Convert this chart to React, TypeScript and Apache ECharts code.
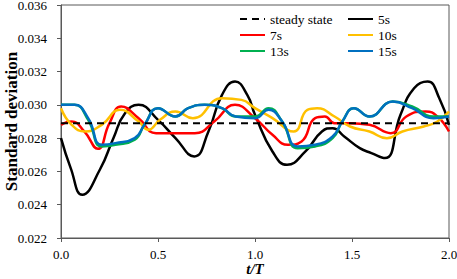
import React, { useEffect, useRef } from "react";
import * as echarts from "echarts";

const steadyValue = 0.0289;
const steadyT = [0, 2];

const t5 = [0, 0.05, 0.11, 0.2, 0.27, 0.33, 0.4, 0.5, 0.59, 0.687, 0.76, 0.83, 0.897, 0.96, 1.0, 1.09, 1.165, 1.26, 1.345, 1.4, 1.46, 1.54, 1.6, 1.67, 1.75, 1.82, 1.89, 1.95, 2.0];
const v5 = [0.028, 0.0262, 0.0246, 0.0261, 0.028, 0.0295, 0.0300, 0.0291, 0.0280, 0.0269, 0.0284, 0.0306, 0.0314, 0.0306, 0.0294, 0.0272, 0.0264, 0.0272, 0.0284, 0.0286, 0.0281, 0.0274, 0.0271, 0.0268, 0.0294, 0.0310, 0.0314, 0.0304, 0.0288];

const t7 = [0, 0.055, 0.12, 0.19, 0.25, 0.31, 0.4, 0.49, 0.59, 0.69, 0.79, 0.897, 1.0, 1.09, 1.17, 1.24, 1.31, 1.36, 1.41, 1.49, 1.59, 1.7, 1.78, 1.88, 1.94, 2.0];
const v7 = [0.0288, 0.0290, 0.0284, 0.02736, 0.0289, 0.0299, 0.0292, 0.0283, 0.0283, 0.0283, 0.0290, 0.0300, 0.0292, 0.0282, 0.0276, 0.0278, 0.0292, 0.0293, 0.0289, 0.0289, 0.0288, 0.0283, 0.0293, 0.0296, 0.0293, 0.0284];

const t10 = [0, 0.055, 0.124, 0.21, 0.304, 0.4, 0.45, 0.51, 0.59, 0.68, 0.83, 0.93, 1.0, 1.09, 1.2, 1.27, 1.32, 1.41, 1.49, 1.59, 1.68, 1.76, 1.87, 1.94, 2.0];
const v10 = [0.0298, 0.0288, 0.0284, 0.0288, 0.0297, 0.0290, 0.0285, 0.0291, 0.0296, 0.0292, 0.0304, 0.0303, 0.0298, 0.0292, 0.0284, 0.0297, 0.0298, 0.0293, 0.0287, 0.0284, 0.0280, 0.0284, 0.0287, 0.0290, 0.0296];

const t13 = [0, 0.07, 0.14, 0.21, 0.28, 0.38, 0.43, 0.5, 0.59, 0.655, 0.74, 0.83, 0.9, 1.0, 1.07, 1.14, 1.22, 1.31, 1.4, 1.45, 1.51, 1.59, 1.71, 1.81, 1.92, 2.0];
const v13 = [0.0300, 0.0300, 0.0291, 0.0275, 0.0276, 0.0279, 0.0288, 0.0298, 0.0293, 0.0298, 0.0300, 0.0298, 0.0293, 0.0293, 0.0298, 0.0290, 0.0274, 0.0275, 0.0280, 0.0290, 0.0298, 0.0293, 0.0302, 0.0299, 0.0293, 0.0293];

const t15 = [0, 0.07, 0.14, 0.21, 0.28, 0.38, 0.43, 0.5, 0.59, 0.655, 0.74, 0.83, 0.9, 1.0, 1.07, 1.14, 1.22, 1.31, 1.4, 1.45, 1.51, 1.59, 1.71, 1.81, 1.92, 2.0];
const v15 = [0.0300, 0.0300, 0.0292, 0.0276, 0.0277, 0.0280, 0.0288, 0.0298, 0.0293, 0.0298, 0.0300, 0.0298, 0.0293, 0.0292, 0.0297, 0.0290, 0.0275, 0.0276, 0.0281, 0.0290, 0.0298, 0.0293, 0.0302, 0.0298, 0.0292, 0.0293];

const seriesNames = ["steady state", "5s", "7s", "10s", "13s", "15s"];
const seriesColors = ["#000000", "#000000", "#ff0000", "#ffc000", "#00b050", "#0070c0"];

const zip = (t: number[], v: number[]) => t.map((x, i) => [x, v[i]]);

const FONT = "'Liberation Serif', 'Times New Roman', serif";

export default function App() {
  const ref = useRef<HTMLDivElement>(null);
  useEffect(() => {
    if (!ref.current) return;
    const chart = echarts.init(ref.current, undefined, { renderer: "svg" });
    const datasets = [
      steadyT.map((x) => [x, steadyValue]),
      zip(t5, v5),
      zip(t7, v7),
      zip(t10, v10),
      zip(t13, v13),
      zip(t15, v15),
    ];
    const series = datasets.map((d, i) => ({
      name: seriesNames[i],
      type: "line",
      data: d,
      smooth: i === 0 ? false : 0.5,
      symbol: "none",
      z: i === 0 ? 10 : 2 + i,
      lineStyle: {
        color: seriesColors[i],
        width: i === 0 ? 2 : 2.5,
        type: i === 0 ? [7, 5] : "solid",
      },
      itemStyle: { color: seriesColors[i] },
    }));
    const legendCommon = {
      orient: "vertical",
      top: 12,
      padding: 0,
      itemWidth: 25,
      itemHeight: 12,
      itemGap: 2,
      itemStyle: { opacity: 0 },
      textStyle: { fontFamily: FONT, fontSize: 13.5, color: "#000" },
    };
    chart.setOption({
      animation: false,
      textStyle: { fontFamily: FONT },
      grid: { left: 61, right: 8, top: 5, bottom: 41, outerBoundsMode: "none" },
      legend: [
        { ...legendCommon, left: 239, data: ["steady state", "7s", "13s"] },
        { ...legendCommon, left: 347, data: ["5s", "10s", "15s"] },
      ],
      xAxis: {
        type: "value",
        min: 0,
        max: 2,
        interval: 0.5,
        name: "t/T",
        nameLocation: "middle",
        nameGap: 23,
        nameMoveOverlap: false,
        nameTextStyle: { fontFamily: FONT, fontSize: 15, fontWeight: "bold", fontStyle: "italic", color: "#000" },
        axisLine: { show: true, lineStyle: { color: "#595959", width: 1 } },
        axisTick: { show: true, inside: false, length: 4, lineStyle: { color: "#595959" } },
        axisLabel: { fontFamily: FONT, fontSize: 13, color: "#000", margin: 10, formatter: (v: number) => v.toFixed(1) },
        splitLine: { show: false },
      },
      yAxis: {
        type: "value",
        min: 0.022,
        max: 0.036,
        interval: 0.002,
        name: "Standard deviation",
        nameLocation: "middle",
        nameGap: 41,
        nameMoveOverlap: false,
        nameTextStyle: { fontFamily: FONT, fontSize: 17, fontWeight: "bold", color: "#000" },
        axisLine: { show: true, lineStyle: { color: "#595959", width: 1 } },
        axisTick: { show: true, inside: false, length: 4, lineStyle: { color: "#595959" } },
        axisLabel: { fontFamily: FONT, fontSize: 13, color: "#000", margin: 14, formatter: (v: number) => v.toFixed(3) },
        splitLine: { show: false },
      },
      graphic: [
        {
          type: "rect",
          shape: { x: 61, y: 5, width: 388, height: 233 },
          style: { fill: "none", stroke: "#595959", lineWidth: 1 },
          silent: true,
          z: -1,
        },
      ],
      series,
    });
    return () => chart.dispose();
  }, []);
  return <div ref={ref} style={{ width: 457, height: 279, position: "absolute", left: 0, top: 0 }} />;
}
